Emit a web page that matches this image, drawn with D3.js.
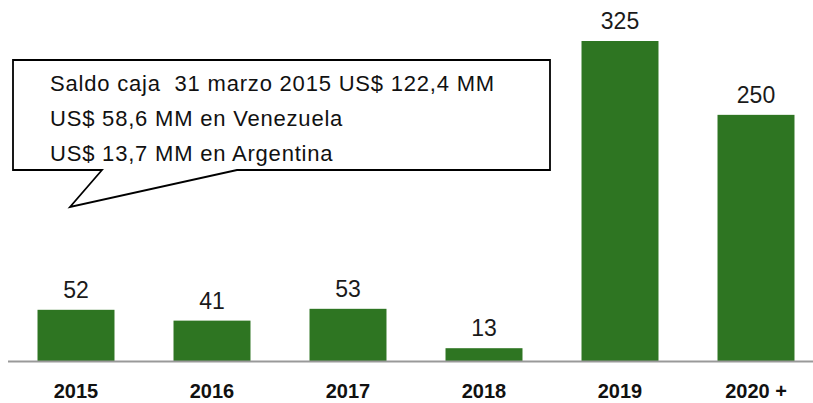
<!DOCTYPE html>
<html>
<head>
<meta charset="utf-8">
<script src="https://cdn.jsdelivr.net/npm/d3@7"></script>
<style>
  body { margin: 0; background: #fff; }
  svg { display: block; font-family: "Liberation Sans", Arial, sans-serif; }
</style>
</head>
<body>
<div id="chart"></div>
<script>
var years = ["2015", "2016", "2017", "2018", "2019", "2020 +"];
var amounts = [52, 41, 53, 13, 325, 250];
var noteLines = [
    "Saldo caja  31 marzo 2015 US$ 122,4 MM",
    "US$ 58,6 MM en Venezuela",
    "US$ 13,7 MM en Argentina"
];

var width = 813, height = 403;
var baseY = 361;

var data = years.map(function(y, i) { return {year: y, value: amounts[i]}; });

var x = d3.scaleBand()
    .domain(years)
    .range([8, 824])
    .paddingInner(0.434)
    .paddingOuter(0.217);
var y = d3.scaleLinear()
    .domain([0, 325])
    .range([baseY, 41]);

var svg = d3.select("#chart").append("svg")
    .attr("width", width)
    .attr("height", height);

// bars
svg.selectAll(".bar")
    .data(data)
    .enter().append("rect")
    .attr("class", "bar")
    .attr("x", function(d) { return x(d.year); })
    .attr("width", x.bandwidth())
    .attr("y", function(d) { return y(d.value); })
    .attr("height", function(d) { return baseY - y(d.value); })
    .attr("fill", "#2e7522");

// value labels
svg.selectAll(".val")
    .data(data)
    .enter().append("text")
    .attr("class", "val")
    .attr("x", function(d) { return x(d.year) + x.bandwidth() / 2; })
    .attr("y", function(d) { return y(d.value) - 12; })
    .attr("text-anchor", "middle")
    .attr("font-size", "23px")
    .attr("fill", "#1a1a1a")
    .text(function(d) { return d.value; });

// baseline
svg.append("line")
    .attr("x1", 8).attr("x2", width)
    .attr("y1", baseY + 0.5).attr("y2", baseY + 0.5)
    .attr("stroke", "#999")
    .attr("stroke-width", 2);

// x axis labels
var xAxis = svg.append("g")
    .attr("transform", "translate(0," + baseY + ")")
    .call(d3.axisBottom(x).tickSize(0).tickPadding(0));
xAxis.select(".domain").remove();
xAxis.selectAll("text")
    .attr("dy", null)
    .attr("y", 37)
    .attr("font-family", "Liberation Sans, Arial, sans-serif")
    .attr("font-size", "20px")
    .attr("font-weight", "bold")
    .attr("fill", "#111");

// callout
var p = d3.path();
p.moveTo(13, 60);
p.lineTo(550, 60);
p.lineTo(550, 170);
p.lineTo(237, 170);
p.lineTo(70, 207);
p.lineTo(102, 170);
p.lineTo(13, 170);
p.closePath();
svg.append("path")
    .attr("d", p.toString())
    .attr("fill", "#fff")
    .attr("stroke", "#000")
    .attr("stroke-width", 1.8)
    .attr("stroke-linejoin", "miter");

svg.selectAll(".note")
    .data(noteLines)
    .enter().append("text")
    .attr("class", "note")
    .attr("x", 50)
    .attr("y", function(d, i) { return 91 + i * 35; })
    .attr("font-size", "22px")
    .attr("letter-spacing", "0.8px")
    .attr("fill", "#111")
    .attr("xml:space", "preserve")
    .style("white-space", "pre")
    .text(function(d) { return d; });
</script>
</body>
</html>
